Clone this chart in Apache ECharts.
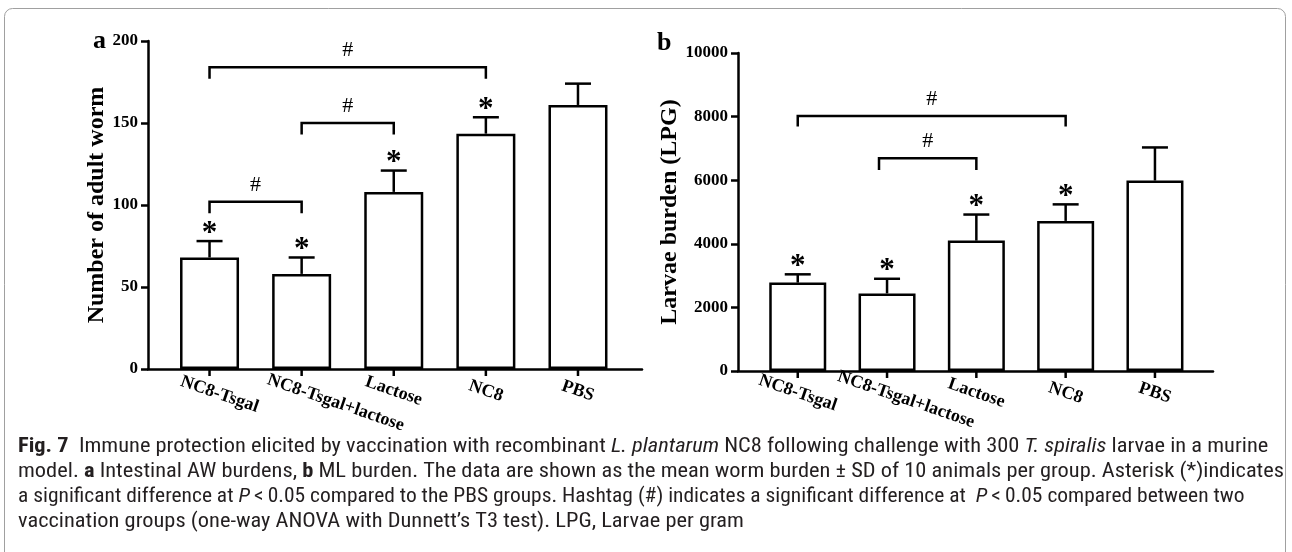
<!DOCTYPE html>
<html>
<head>
<meta charset="utf-8">
<script src="https://cdn.jsdelivr.net/npm/echarts@6/dist/echarts.min.js"></script>
<style>
  html, body { margin: 0; padding: 0; background: #fff; }
  #main { width: 1292px; height: 552px; }
</style>
</head>
<body>
<div id="main"></div>
<script>
// groups on both panels
var groups = ['NC8-Tsgal', 'NC8-Tsgal+lactose', 'Lactose', 'NC8', 'PBS'];
var groupIdx = [0, 1, 2, 3, 4];

// panel a: adult worms
var adultMean = [68, 58, 108, 143.5, 161];
var adultSD = [10, 10, 13, 10, 13];
var adultStars = ['*', '*', '*', '*', ''];
// [from, to, bracket y, leg end y]
var adultBrackets = [[0, 3, 184, 177], [1, 2, 150, 143], [0, 1, 102, 95]];

// panel b: larvae per gram
var larvaeMean = [2780, 2440, 4100, 4720, 5990];
var larvaeSD = [260, 460, 820, 520, 1040];
var larvaeStars = ['*', '*', '*', '*', ''];
var larvaeBrackets = [[0, 3, 8020, 7690], [0.91, 2, 6690, 6320]];

// caption, one entry per printed line
var captionLines = [
    '{b|Fig. 7}  Immune protection elicited by vaccination with recombinant {i|L. plantarum} NC8 following challenge with 300 {i|T. spiralis} larvae in a murine',
    'model. {b|a} Intestinal AW burdens, {b|b} ML burden. The data are shown as the mean worm burden \u00b1 SD of 10 animals per group. Asterisk (*)indicates',
    'a significant difference at {i|P}\u2009<\u20090.05 compared to the PBS groups. Hashtag (#) indicates a significant difference at  {i|P}\u2009<\u20090.05 compared between two',
    'vaccination groups (one-way ANOVA with Dunnett\u2019s T3 test). LPG, Larvae per gram'
];
var captionScale = [1.067, 1.067, 1.022, 1.067];

var serif = '"Liberation Serif", "Times New Roman", serif';
var black = '#000';

function makePanel(i, cfg) {
    var line = { color: black, width: 2.5 };
    var grid = { left: cfg.left, right: cfg.right, top: cfg.top, bottom: cfg.bottom };
    var xAxis = {
        type: 'value', gridIndex: i, min: cfg.xmin, max: cfg.xmax,
        splitLine: { show: false },
        axisLine: { show: true, onZero: false, lineStyle: line },
        axisTick: { show: false },
        axisLabel: {
            customValues: groupIdx,
            rotate: -19, align: 'center', margin: 22,
            color: black, fontFamily: serif, fontWeight: 'bold', fontSize: 18,
            formatter: function (v) {
                var k = Math.round(v);
                return '{p' + k + '|' + groups[k] + '}';
            },
            rich: cfg.labelRich
        }
    };
    var yAxis = {
        type: 'value', gridIndex: i, min: 0, max: cfg.ymax, interval: cfg.yint,
        splitLine: { show: false },
        axisLine: { show: true, onZero: false, lineStyle: line },
        axisTick: { show: true, length: 7, lineStyle: line },
        axisLabel: {
            color: black, fontFamily: serif, fontWeight: 'bold', fontSize: 17, margin: 10,
            formatter: function (v) { return String(v); }
        },
        name: cfg.name, nameLocation: 'middle', nameGap: cfg.nameGap,
        nameTextStyle: { color: black, fontFamily: serif, fontWeight: 'bold', fontSize: 24 }
    };
    var mean = cfg.mean, sd = cfg.sd, stars = cfg.stars;
    var series = [
        {
            type: 'bar', xAxisIndex: i, yAxisIndex: i, silent: true,
            barWidth: cfg.barWidth,
            data: mean.map(function (m, k) { return [k, m]; }),
            itemStyle: { color: '#fff', borderColor: black, borderWidth: 2.5 }
        },
        {
            // error bars, category ticks and significance stars
            type: 'custom', xAxisIndex: i, yAxisIndex: i, silent: true, z: 3, clip: false,
            data: mean.map(function (m, k) { return [k, m, sd[k]]; }),
            renderItem: function (params, api) {
                var x = api.value(0), m = api.value(1), s = api.value(2);
                var p0 = api.coord([x, m]);
                var p1 = api.coord([x, m + s]);
                var base = api.coord([x, 0]);
                var cap = 13;
                var kids = [
                    { type: 'line', shape: { x1: p0[0], y1: p0[1], x2: p1[0], y2: p1[1] }, style: { stroke: black, lineWidth: 2.5 } },
                    { type: 'line', shape: { x1: p1[0] - cap, y1: p1[1], x2: p1[0] + cap, y2: p1[1] }, style: { stroke: black, lineWidth: 2.5 } },
                    { type: 'line', shape: { x1: base[0], y1: base[1], x2: base[0], y2: base[1] + 7 }, style: { stroke: black, lineWidth: 2.5 } }
                ];
                var st = stars[params.dataIndex];
                if (st) {
                    kids.push({
                        type: 'text', x: p1[0], y: p1[1] + 8,
                        style: { text: st, fill: black, font: 'bold 31px ' + serif, align: 'center', verticalAlign: 'bottom' }
                    });
                }
                return { type: 'group', children: kids };
            }
        },
        {
            type: 'custom', xAxisIndex: i, yAxisIndex: i, silent: true, z: 3,
            data: cfg.brackets,
            renderItem: function (params, api) {
                var a = api.coord([api.value(0), api.value(3)]);
                var b = api.coord([api.value(0), api.value(2)]);
                var c = api.coord([api.value(1), api.value(2)]);
                var d = api.coord([api.value(1), api.value(3)]);
                return {
                    type: 'group', children: [
                        { type: 'polyline', shape: { points: [a, b, c, d] }, style: { stroke: black, fill: 'none', lineWidth: 2.5 } },
                        {
                            type: 'text', x: (b[0] + c[0]) / 2, y: b[1] - 17,
                            style: { text: '#', fill: black, font: '22px ' + serif, align: 'center', verticalAlign: 'middle' }
                        }
                    ]
                };
            }
        }
    ];
    return { grid: grid, xAxis: xAxis, yAxis: yAxis, series: series };
}

var pa = makePanel(0, {
    left: 148, right: 650, top: 41, bottom: 183,
    xmin: -0.668, xmax: 4.695, ymax: 200, yint: 50, barWidth: 59,
    name: 'Number of adult worm', nameGap: 28,
    mean: adultMean, sd: adultSD, stars: adultStars, brackets: adultBrackets,
    labelRich: { p0: { padding: [0, 0, 0, 21] }, p1: { padding: [0, 0, 0, 72] }, p2: {}, p3: {}, p4: {} }
});
var pb = makePanel(1, {
    left: 738, right: 79, top: 53, bottom: 181,
    xmin: -0.669, xmax: 4.65, ymax: 10000, yint: 2000, barWidth: 57,
    name: 'Larvae burden (LPG)', nameGap: 37,
    mean: larvaeMean, sd: larvaeSD, stars: larvaeStars, brackets: larvaeBrackets,
    labelRich: { p0: {}, p1: { padding: [0, 0, 0, 40] }, p2: {}, p3: {}, p4: {} }
});

var capFont = '"Roboto Condensed", sans-serif';
var capRich = {
    b: { fontWeight: 'bold', fontFamily: capFont, fontSize: 21 },
    i: { fontStyle: 'italic', fontFamily: capFont, fontSize: 21 }
};

var graphics = [
    {
        type: 'rect', silent: true,
        shape: { x: 4.5, y: 8.5, width: 1281, height: 560, r: 8 },
        style: { fill: 'none', stroke: '#a0a0a0', lineWidth: 1 }
    },
    {
        type: 'text', left: 93, top: 28,
        style: { text: 'a', fill: black, font: 'bold 26px ' + serif }
    },
    {
        type: 'text', left: 657, top: 30,
        style: { text: 'b', fill: black, font: 'bold 26px ' + serif }
    }
];
captionLines.forEach(function (t, k) {
    graphics.push({
        type: 'text', x: 18, y: 447 + k * 25, scaleX: captionScale[k], silent: true,
        style: {
            x: 0, y: 0, text: t, fill: '#231f20', fontFamily: capFont, fontSize: 21,
            verticalAlign: 'middle', rich: capRich
        }
    });
});

var myChart = echarts.init(document.getElementById('main'));
var option = {
    animation: false,
    backgroundColor: '#fff',
    grid: [pa.grid, pb.grid],
    xAxis: [pa.xAxis, pb.xAxis],
    yAxis: [pa.yAxis, pb.yAxis],
    series: pa.series.concat(pb.series),
    graphic: graphics
};
myChart.setOption(option);
</script>
</body>
</html>
